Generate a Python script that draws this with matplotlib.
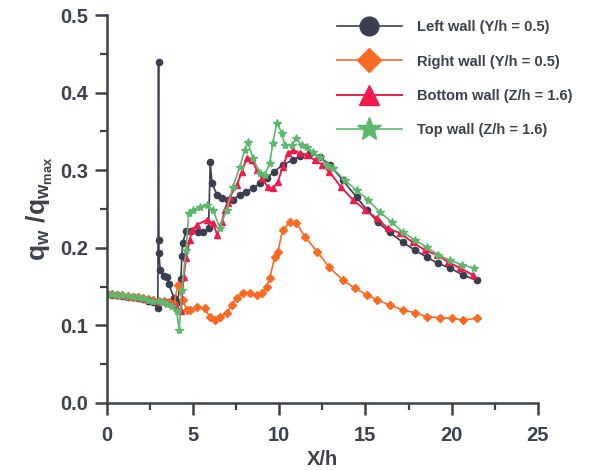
import matplotlib.pyplot as plt

plt.rcParams['font.family'] = 'Liberation Sans'
plt.rcParams['font.weight'] = 'bold'
plt.rcParams['mathtext.fontset'] = 'custom'
plt.rcParams['mathtext.rm'] = 'Liberation Sans:bold'
plt.rcParams['mathtext.it'] = 'Liberation Sans:bold'

# Left wall (Y/h = 0.5)
x_left = [0, 0.3, 0.6, 0.9, 1.2, 1.5, 1.8, 2.1, 2.4, 2.7, 2.96, 3.0, 3.02, 3.02,
          3.1, 3.3, 3.5, 3.6, 3.9, 4.1, 4.3, 4.35, 4.4, 4.6, 4.9, 5.3, 5.6, 5.9,
          6.0, 6.1, 6.4, 6.7, 7.0, 7.3, 7.7, 8.1, 8.5, 8.9, 9.3, 9.7, 10.2, 10.8,
          11.2, 11.8, 12.35, 12.93, 13.69, 14.5, 15.08, 15.72, 16.4, 17.17,
          17.87, 18.56, 19.2, 19.9, 20.65, 21.46]
y_left = [0.140, 0.139, 0.139, 0.138, 0.137, 0.136, 0.135, 0.134, 0.132, 0.130,
          0.122, 0.440, 0.210, 0.193, 0.171, 0.164, 0.162, 0.153, 0.135, 0.130,
          0.160, 0.190, 0.206, 0.222, 0.222, 0.220, 0.220, 0.225, 0.310, 0.283,
          0.268, 0.264, 0.262, 0.262, 0.268, 0.272, 0.277, 0.283, 0.290, 0.298,
          0.307, 0.313, 0.318, 0.322, 0.317, 0.307, 0.287, 0.265, 0.249, 0.233,
          0.220, 0.207, 0.197, 0.188, 0.180, 0.174, 0.165, 0.158]

# Right wall (Y/h = 0.5)
x_right = [0, 0.3, 0.6, 0.9, 1.2, 1.5, 1.8, 2.1, 2.4, 2.7, 3.0, 3.3, 3.6, 3.9,
           4.12, 4.4, 4.64, 4.81, 5.22, 5.68, 5.97, 6.26, 6.55, 6.96, 7.25,
           7.54, 7.89, 8.29, 8.7, 8.99, 9.28, 9.45, 9.74, 9.92, 10.2, 10.6,
           11.0, 11.5, 12.2, 12.9, 13.7, 14.4, 15.1, 15.7, 16.4, 17.2, 17.9,
           18.6, 19.3, 20.0, 20.65, 21.46]
y_right = [0.140, 0.140, 0.139, 0.139, 0.138, 0.137, 0.136, 0.135, 0.134, 0.133,
           0.132, 0.131, 0.130, 0.128, 0.152, 0.133, 0.120, 0.120, 0.124, 0.122,
           0.111, 0.107, 0.111, 0.116, 0.126, 0.135, 0.142, 0.142, 0.139, 0.142,
           0.150, 0.161, 0.188, 0.195, 0.223, 0.233, 0.232, 0.214, 0.195, 0.175,
           0.158, 0.148, 0.139, 0.133, 0.126, 0.120, 0.116, 0.111, 0.110, 0.109,
           0.107, 0.109]

# Bottom wall (Z/h = 1.6)
x_bottom = [0, 0.3, 0.6, 0.9, 1.2, 1.5, 1.8, 2.1, 2.4, 2.7, 3.0, 3.3, 3.5, 3.8,
            4.0, 4.3, 4.45, 4.6, 4.8, 4.95, 5.25, 5.8, 6.15, 6.4, 6.67, 6.84,
            7.0, 7.13, 7.54, 7.83, 8.12, 8.41, 8.7, 9.0, 9.34, 9.63, 9.92, 10.2,
            10.5, 10.79, 11.2, 11.6, 12.06, 12.5, 12.9, 13.6, 14.27, 14.97,
            15.66, 16.3, 17.0, 17.75, 18.45, 19.14, 19.78, 20.48, 21.23]
y_bottom = [0.140, 0.140, 0.139, 0.139, 0.138, 0.137, 0.136, 0.135, 0.134, 0.133,
            0.132, 0.131, 0.130, 0.128, 0.125, 0.118, 0.162, 0.187, 0.210, 0.223,
            0.230, 0.236, 0.232, 0.217, 0.233, 0.249, 0.258, 0.265, 0.281, 0.298,
            0.316, 0.313, 0.300, 0.290, 0.278, 0.277, 0.285, 0.304, 0.322, 0.326,
            0.322, 0.320, 0.313, 0.307, 0.298, 0.278, 0.262, 0.249, 0.238, 0.225,
            0.219, 0.207, 0.197, 0.191, 0.182, 0.174, 0.165]

# Top wall (Z/h = 1.6)
x_top = [0, 0.3, 0.6, 0.9, 1.2, 1.5, 1.8, 2.1, 2.4, 2.7, 3.0, 3.3, 3.5, 3.8,
         4.05, 4.2, 4.35, 4.6, 4.75, 5.0, 5.39, 5.8, 6.15, 6.55, 6.96, 7.3,
         7.71, 8.0, 8.18, 8.47, 8.87, 9.16, 9.45, 9.63, 9.86, 10.15, 10.32,
         10.73, 11.0, 11.3, 11.6, 11.95, 12.35, 12.76, 13.1, 13.8, 14.5, 15.14,
         15.84, 16.53, 17.17, 17.87, 18.56, 19.2, 19.9, 20.6, 21.3]
y_top = [0.140, 0.140, 0.139, 0.139, 0.138, 0.137, 0.136, 0.135, 0.133, 0.132,
         0.131, 0.130, 0.128, 0.125, 0.118, 0.094, 0.146, 0.197, 0.245, 0.249,
         0.253, 0.255, 0.249, 0.226, 0.249, 0.278, 0.304, 0.326, 0.336, 0.316,
         0.296, 0.294, 0.309, 0.335, 0.361, 0.348, 0.332, 0.332, 0.341, 0.332,
         0.330, 0.323, 0.317, 0.307, 0.303, 0.287, 0.274, 0.262, 0.246, 0.233,
         0.220, 0.210, 0.201, 0.191, 0.184, 0.178, 0.174]

ink = '#3d414c'

fig = plt.figure(figsize=(6.07, 4.70), dpi=100)
ax = fig.add_axes([0.176, 0.1426, 0.71, 0.8254])

ax.plot(x_left, y_left, color='#3b3e4f', marker='o', markersize=4.5, lw=1.2,
        label='Left wall (Y/h = 0.5)')
ax.plot(x_right, y_right, color='#fa6a22', marker='D', markersize=4, lw=1.2,
        label='Right wall (Y/h = 0.5)')
ax.plot(x_bottom, y_bottom, color='#f11a4c', marker='^', markersize=5, lw=1.4,
        label='Bottom wall (Z/h = 1.6)')
ax.plot(x_top, y_top, color='#5db86e', marker='*', markersize=6, lw=1.2,
        label='Top wall (Z/h = 1.6)')

ax.set_xlim(0, 25)
ax.set_ylim(0, 0.5)
ax.set_xticks([0, 5, 10, 15, 20, 25])
ax.set_xticks([2.5, 7.5, 12.5, 17.5, 22.5], minor=True)
ax.set_yticks([0.0, 0.1, 0.2, 0.3, 0.4, 0.5])
ax.set_yticks([0.05, 0.15, 0.25, 0.35, 0.45], minor=True)
ax.yaxis.set_major_formatter(plt.FormatStrFormatter('%.1f'))

for side in ['top', 'right']:
    ax.spines[side].set_visible(False)
for side in ['left', 'bottom']:
    ax.spines[side].set_color(ink)
    ax.spines[side].set_linewidth(1.8)

ax.tick_params(which='major', direction='out', length=8.5, width=1.8,
               color=ink, labelcolor=ink, labelsize=14.5)
ax.tick_params(which='minor', direction='out', length=5, width=1.6, color=ink)
ax.tick_params(axis='x', which='major', pad=8)
ax.tick_params(axis='y', which='major', pad=5)
for lbl in ax.get_xticklabels() + ax.get_yticklabels():
    lbl.set_fontweight('bold')

ax.set_xlabel('X/h', fontsize=14.5, fontweight='bold', color=ink, labelpad=4)
ax.set_ylabel(r'$q_w\ /q_{w_{max}}$', fontsize=19, color=ink, labelpad=4)

fig.legend(loc='upper left', bbox_to_anchor=(0.533, 0.985), frameon=False,
           prop={'size': 10.5, 'weight': 'bold'}, markerscale=3.0,
           handlelength=4.5, handletextpad=1.0, labelspacing=1.4,
           labelcolor=ink)

fig.savefig('out.png', dpi=100)
